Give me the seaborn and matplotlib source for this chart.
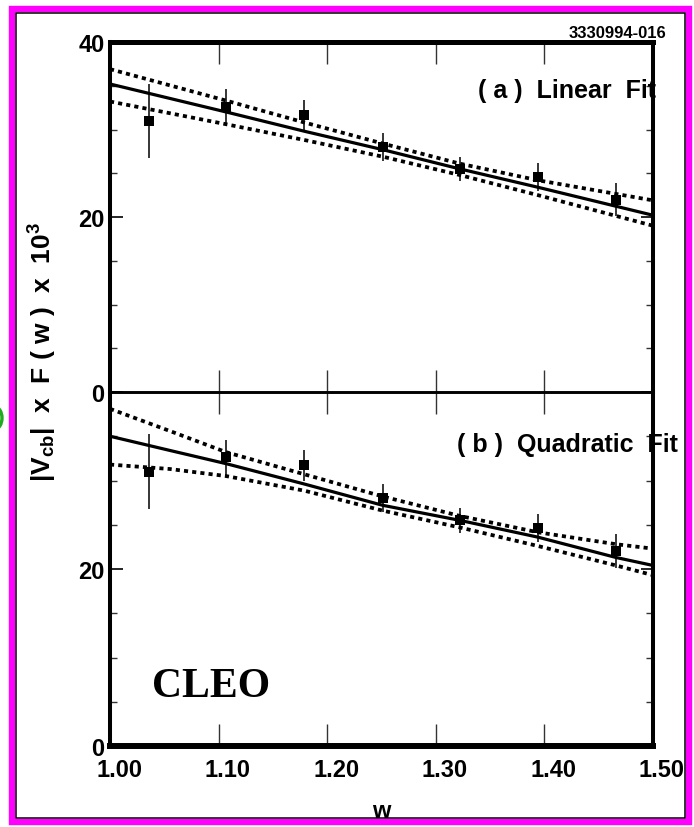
import matplotlib
matplotlib.use("Agg")
import matplotlib.pyplot as plt
import matplotlib.transforms as mtransforms
from matplotlib.patches import Rectangle, Ellipse
from matplotlib.ticker import MultipleLocator
import seaborn as sns
import pandas as pd

# Measured |Vcb| x F(w) x 10^3 points
w_data = [1.036, 1.107, 1.179, 1.251, 1.322, 1.394, 1.466]
vf_data = [31.0, 32.6, 31.7, 28.0, 25.5, 24.6, 22.0]
vf_err = [4.2, 2.0, 1.7, 1.6, 1.4, 1.6, 1.9]

# (a) linear fit with its one-sigma band
w_lin = [1.0, 1.107, 1.179, 1.251, 1.322, 1.394, 1.5]
lin_fit = [35.2, 32.0, 29.8, 27.7, 25.5, 23.4, 20.2]
lin_hi = [36.9, 33.3, 30.8, 28.4, 26.1, 24.2, 21.9]
lin_lo = [33.2, 30.6, 28.8, 26.9, 24.8, 22.5, 19.0]

# (b) quadratic fit with its one-sigma band
w_quad = [1.0, 1.055, 1.107, 1.179, 1.251, 1.322, 1.394, 1.466, 1.5]
quad_fit = [35.0, 33.4, 31.9, 29.6, 27.2, 25.5, 23.6, 21.3, 20.4]
quad_hi = [38.1, 35.6, 33.2, 30.7, 28.2, 26.0, 24.15, 22.8, 22.3]
quad_lo = [31.8, 31.3, 30.5, 28.85, 26.6, 24.7, 22.6, 20.4, 19.3]

x_ticks = [1.0, 1.1, 1.2, 1.3, 1.4, 1.5]
x_ticklabels = ["1.00", "1.10", "1.20", "1.30", "1.40", "1.50"]
panel_titles = ["( a )  Linear  Fit", "( b )  Quadratic  Fit"]

sns.set_style("white")
plt.rcParams["font.family"] = ["Liberation Sans", "DejaVu Sans"]
plt.rcParams["font.weight"] = "bold"
for key in ("text.color", "axes.labelcolor", "xtick.color", "ytick.color",
            "axes.edgecolor"):
    plt.rcParams[key] = "black"
plt.rcParams["mathtext.fontset"] = "custom"
plt.rcParams["mathtext.rm"] = "Liberation Sans:bold"
plt.rcParams["mathtext.it"] = "Liberation Sans:bold"
plt.rcParams["mathtext.bf"] = "Liberation Sans:bold"

W, H = 694, 828
fig = plt.figure(figsize=(W / 100, H / 100), dpi=100)
fig.patch.set_facecolor("white")

L, R = 110 / W, 653 / W
y_mid = 1 - 393 / H
ax_a = fig.add_axes([L, y_mid, R - L, (393 - 43) / H])
ax_b = fig.add_axes([L, 1 - 747 / H, R - L, (747 - 393) / H])

dot_style = (0, (1.1, 1.1))
data = pd.DataFrame({"w": w_data, "vf": vf_data, "err": vf_err})


def draw_panel(ax, w_grid, fit, hi, lo):
    sns.lineplot(x=w_grid, y=fit, ax=ax, color="black", linewidth=2.3,
                 estimator=None, sort=True, zorder=3)
    for band in (hi, lo):
        sns.lineplot(x=w_grid, y=band, ax=ax, color="black", linewidth=2.7,
                     linestyle=dot_style, estimator=None, sort=True, zorder=3)
    ax.errorbar(data["w"], data["vf"], yerr=data["err"], fmt="none",
                ecolor="black", elinewidth=1.1, capsize=0, zorder=4)
    sns.scatterplot(data=data, x="w", y="vf", ax=ax, marker="s", s=48,
                    color="black", linewidth=0, zorder=5)
    ax.set_xlim(1.0, 1.5)
    ax.set_ylim(0, 40)
    ax.set_xlabel("")
    ax.set_ylabel("")
    ax.set_xticks(x_ticks)
    ax.yaxis.set_minor_locator(MultipleLocator(5))
    ax.tick_params(axis="x", which="major", direction="in", length=16,
                   width=1.0, top=True, bottom=True, color="#333333")
    ax.tick_params(axis="y", which="major", direction="in", length=9,
                   width=1.2, left=True, right=True, pad=4, labelsize=17)
    ax.tick_params(axis="y", which="minor", direction="in", length=5,
                   width=1.0, left=True, right=True, color="#333333")
    for side in ("left", "right"):
        ax.spines[side].set_linewidth(2.9)
        ax.spines[side].set_color("black")


draw_panel(ax_a, w_lin, lin_fit, lin_hi, lin_lo)
draw_panel(ax_b, w_quad, quad_fit, quad_hi, quad_lo)

# upper panel
ax_a.set_yticks([0, 20, 40])
ax_a.set_yticklabels(["0", "20", "40"], fontweight="bold")
ax_a.tick_params(axis="x", labelbottom=False)
ax_a.spines["top"].set_linewidth(3.6)
ax_a.spines["bottom"].set_visible(False)

# lower panel
ax_b.set_yticks([0, 20, 40])
ax_b.set_yticklabels(["0", "20", ""], fontweight="bold")
ax_b.set_xticklabels(x_ticklabels, fontweight="bold")
ax_b.tick_params(axis="x", labelsize=17, pad=9)
ax_b.spines["top"].set_linewidth(2.1)
ax_b.spines["bottom"].set_linewidth(4.3)
shift = mtransforms.ScaledTranslation(0.09, 0, fig.dpi_scale_trans)
for lab in ax_b.get_xticklabels():
    lab.set_transform(lab.get_transform() + shift)

# panel captions, tucked under the right spine
ax_a.text(0.678, 0.862, panel_titles[0], transform=ax_a.transAxes,
          fontsize=18, fontweight="bold", ha="left", va="center",
          zorder=1, clip_on=False)
ax_b.text(0.639, 0.853, panel_titles[1], transform=ax_b.transAxes,
          fontsize=18, fontweight="bold", ha="left", va="center",
          zorder=1, clip_on=False)
ax_b.text(0.077, 0.141, "CLEO", transform=ax_b.transAxes,
          family=["Liberation Serif", "DejaVu Serif"], fontsize=30,
          fontweight="bold", color="black", ha="left", va="baseline")

# axis titles and plate number
fig.text(381.5 / W, 1 - 812 / H, "w", fontsize=17, fontweight="bold",
         ha="center", va="center")
fig.text(43 / W, 1 - 352 / H, r"|V$_{\rm cb}$|  x  F ( w )  x  10$^{3}$",
         rotation=90, fontsize=19, fontweight="bold", ha="center", va="center")
fig.text(666 / W, 1 - 33 / H, "3330994-016", fontsize=12, fontweight="bold",
         ha="right", va="center")

# green mark peeking in at the left page edge
fig.add_artist(Ellipse((-5 / W, 1 - 419 / H), 14 / W, 22 / H,
                       transform=fig.transFigure, fill=False,
                       edgecolor="#1faa1f", linewidth=2.4, zorder=9))

# magenta page frame with a thin black inner rule
fig.add_artist(Rectangle((11.5 / W, 1 - 822.5 / H), (688.5 - 11.5) / W,
                         (822.5 - 9.5) / H, transform=fig.transFigure,
                         fill=False, edgecolor="#ff00ff", linewidth=4.6,
                         zorder=10))
fig.add_artist(Rectangle((15.5 / W, 1 - 819 / H), (684.5 - 15.5) / W,
                         (819 - 13.5) / H, transform=fig.transFigure,
                         fill=False, edgecolor="black", linewidth=1.1,
                         zorder=10))

fig.savefig("out.png", dpi=100, facecolor="white")
